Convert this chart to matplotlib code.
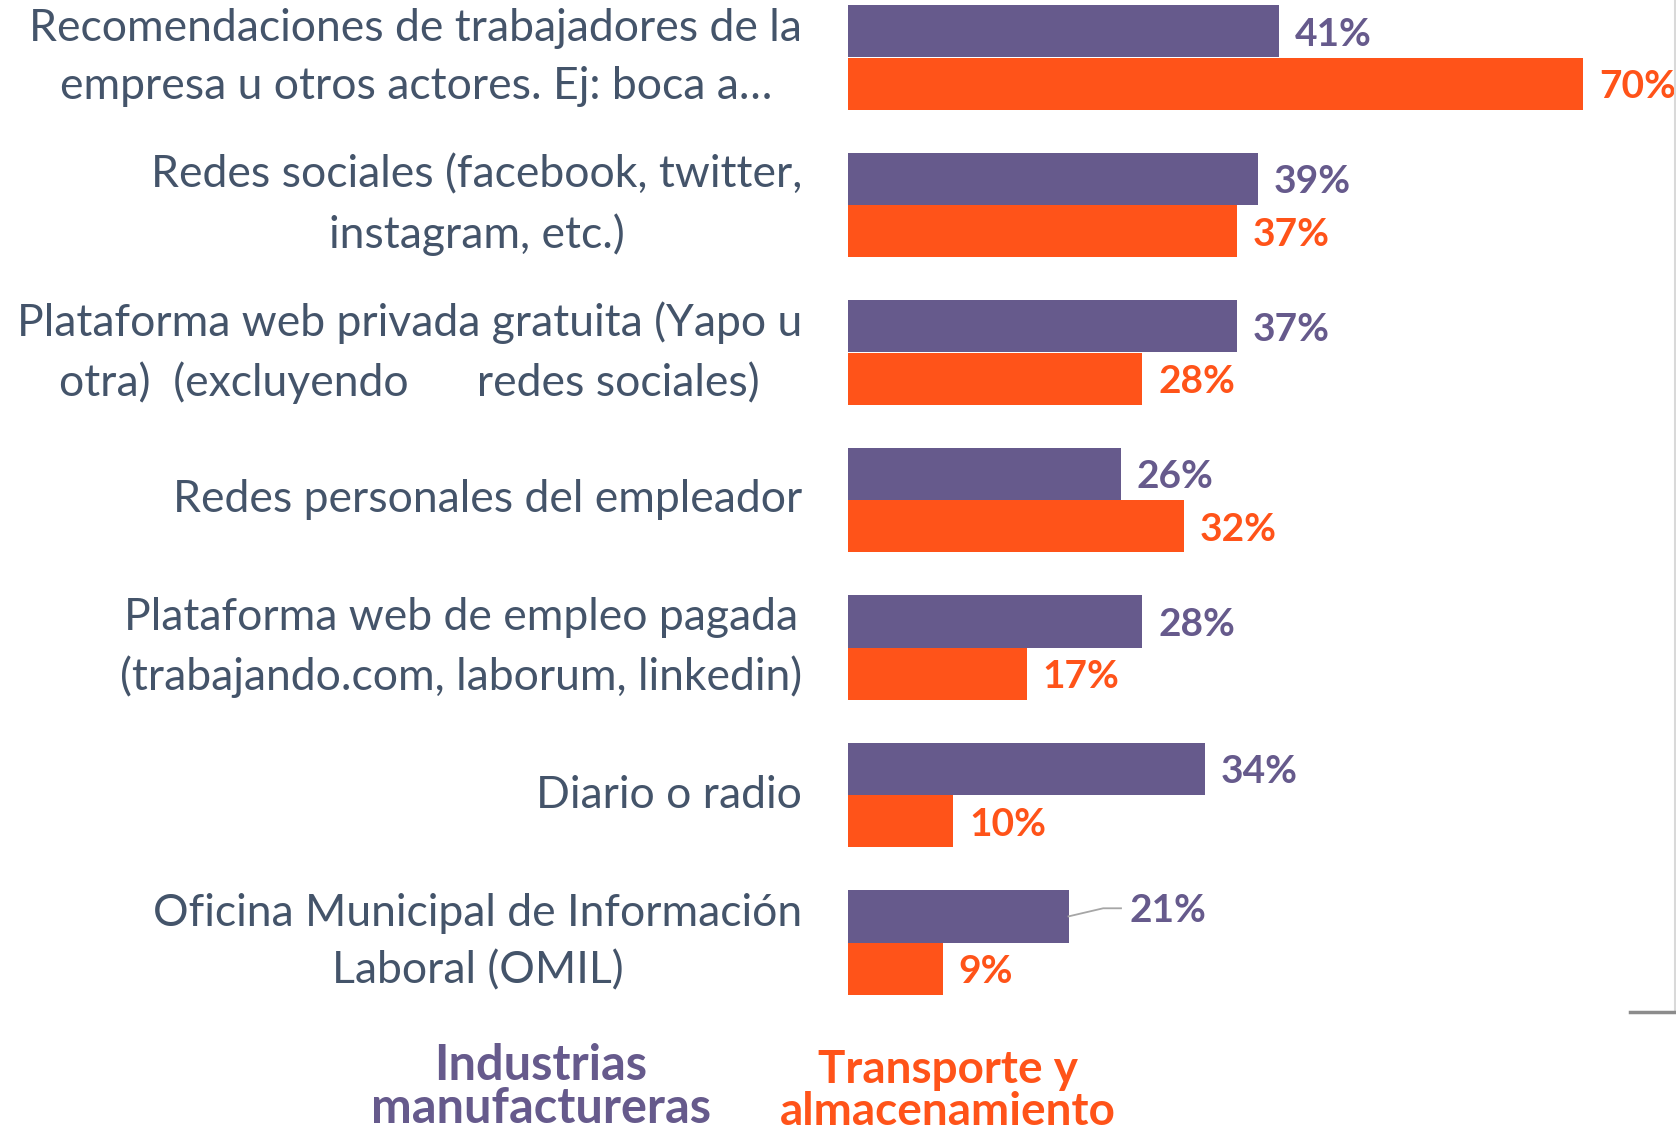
import matplotlib.pyplot as plt
import numpy as np
from matplotlib.lines import Line2D

plt.rcParams['font.family'] = ['Lato', 'DejaVu Sans']

categorias = [
    'Recomendaciones de trabajadores de la\nempresa u otros actores. Ej: boca a…',
    'Redes sociales (facebook, twitter,\ninstagram, etc.)',
    'Plataforma web privada gratuita (Yapo u\notra)  (excluyendo      redes sociales)',
    'Redes personales del empleador',
    'Plataforma web de empleo pagada\n(trabajando.com, laborum, linkedin)',
    'Diario o radio',
    'Oficina Municipal de Información\nLaboral (OMIL)',
]
manufactureras = [41, 39, 37, 26, 28, 34, 21]
transporte = [70, 37, 28, 32, 17, 10, 9]

morado = '#665a8c'
naranja = '#ff5319'
gris_texto = '#44546a'

W, H = 1676, 1132
fig = plt.figure(figsize=(W / 100, H / 100), dpi=100)

# axes placed so 1% = 10.5 px, groups every 147.5 px
ax_left, ax_bottom_px = 848, 1032.5
ax = fig.add_axes([ax_left / W, 1 - ax_bottom_px / H, (W - ax_left) / W, ax_bottom_px / H])
ax.set_xlim(0, (W - ax_left) / 10.5)
ax.set_ylim((ax_bottom_px - 57.5) / 147.5, -57.5 / 147.5)

y = np.arange(len(categorias))
h = 52.2 / 147.5
ax.barh(y - h / 2, manufactureras, height=h, color=morado)
ax.barh(y + h / 2, transporte, height=h, color=naranja)

off = 16 / 10.5
fs_val = 28
for i, (a, b) in enumerate(zip(manufactureras, transporte)):
    if i == len(categorias) - 1:
        # leader line for the last purple label
        ax.plot([a, a + 3.3, a + 5.0], [i - h / 2, i - h / 2 - 0.055, i - h / 2 - 0.055],
                color='#a6a6a6', lw=1.3, clip_on=False)
        ax.text(a + 5.8, i - h / 2 - 0.04, f'{a}%', color=morado, fontsize=fs_val,
                fontweight='bold', va='center', ha='left', clip_on=False)
    else:
        ax.text(a + off, i - h / 2 + 0.02, f'{a}%', color=morado, fontsize=fs_val,
                fontweight='bold', va='center', ha='left', clip_on=False)
    ax.text(b + off, i + h / 2 + 0.02, f'{b}%', color=naranja, fontsize=fs_val,
            fontweight='bold', va='center', ha='left', clip_on=False)

ax.set_yticks(y)
ax.set_yticklabels(categorias, fontsize=32, color=gris_texto, linespacing=1.5)
for t in ax.get_yticklabels():
    t.set_multialignment('center')
    t.set_verticalalignment('center')
ax.tick_params(axis='y', length=0, pad=33)
ax.set_xticks([])
for s in ax.spines.values():
    s.set_visible(False)

# legend texts below the chart
fig.text(541 / W, 1 - 1087 / H, 'Industrias\nmanufactureras', color=morado, fontsize=35,
         fontweight='bold', ha='center', va='center', linespacing=0.95)
fig.text(948 / W, 1 - 1091 / H, 'Transporte y\nalmacenamiento', color=naranja, fontsize=33,
         fontweight='bold', ha='center', va='center', linespacing=0.98)

# frame remnants at the right edge
fig.add_artist(Line2D([1674.5 / W, 1674.5 / W], [1, 1 - 1010 / H], color='#d9d9d9', lw=1.5))
fig.add_artist(Line2D([1630 / W, 1], [1 - 1012 / H, 1 - 1012 / H], color='#8c8c8c', lw=2.5))

fig.savefig('out.png', dpi=100)
